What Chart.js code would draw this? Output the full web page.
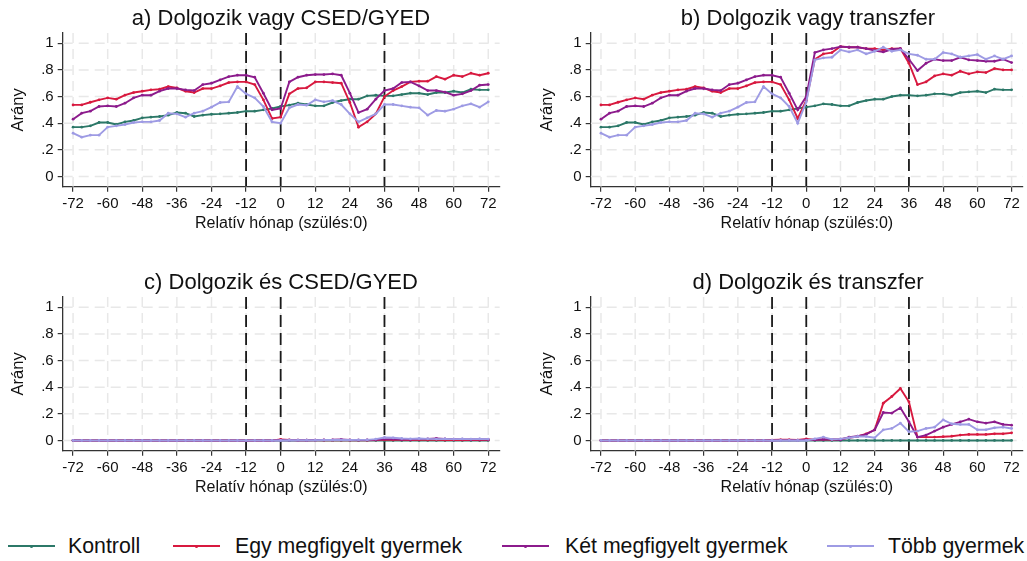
<!DOCTYPE html>
<html lang="hu"><head><meta charset="utf-8">
<script src="https://cdn.jsdelivr.net/npm/chart.js@4.4.1/dist/chart.umd.min.js"></script>
<style>
html,body{margin:0;padding:0;background:#fff;}
body{width:1027px;height:561px;position:relative;overflow:hidden;font-family:"Liberation Sans",Arial,Helvetica,sans-serif;color:#111;}
canvas{position:absolute;}
.ttl{position:absolute;font-size:22px;line-height:24px;white-space:nowrap;transform:translateX(-50%);color:#111;}
.lgline{position:absolute;height:2px;}
.lgdot{position:absolute;width:3px;height:3px;border-radius:2px;}
.lgtxt{position:absolute;font-size:21.3px;line-height:24px;white-space:nowrap;color:#111;}
</style></head><body>
<canvas id="ca" width="513" height="260" style="left:0;top:0"></canvas>
<canvas id="cb" width="513" height="260" style="left:514px;top:0"></canvas>
<canvas id="cc" width="513" height="260" style="left:0;top:264px"></canvas>
<canvas id="cd" width="513" height="260" style="left:514px;top:264px"></canvas>
<div id="titles"></div>
<div id="legend"></div>
<script>
// ---------- data ----------
const months = [-72,-69,-66,-63,-60,-57,-54,-51,-48,-45,-42,-39,-36,-33,-30,-27,-24,-21,-18,-15,-12,-9,-6,-3,0,3,6,9,12,15,18,21,24,27,30,33,36,39,42,45,48,51,54,57,60,63,66,69,72];
const xTickValues = [-72,-60,-48,-36,-24,-12,0,12,24,36,48,60,72];
const yTickValues = [0,0.2,0.4,0.6,0.8,1];
const yTickLabels = ['0','.2','.4','.6','.8','1'];
const refLines = [-12,0,36];
const seriesNames = ['Kontroll','Egy megfigyelt gyermek','Két megfigyelt gyermek','Több gyermek'];
const panelTitles = ['a) Dolgozik vagy CSED/GYED','b) Dolgozik vagy transzfer','c) Dolgozik és CSED/GYED','d) Dolgozik és transzfer'];
const xTitle = 'Relatív hónap (szülés:0)';
const yTitle = 'Arány';

// a) Dolgozik vagy CSED/GYED
const kontrollA = [0.37,0.37,0.38,0.405,0.405,0.39,0.41,0.42,0.44,0.445,0.45,0.46,0.48,0.475,0.45,0.46,0.467,0.47,0.475,0.48,0.49,0.49,0.50,0.51,0.525,
  0.535,0.55,0.54,0.53,0.53,0.555,0.57,0.58,0.58,0.605,0.61,0.605,0.605,0.615,0.625,0.625,0.615,0.63,0.63,0.64,0.63,0.655,0.65,0.65];
const egyA = [0.537,0.537,0.557,0.575,0.59,0.58,0.61,0.63,0.64,0.65,0.655,0.675,0.665,0.64,0.63,0.66,0.66,0.68,0.705,0.71,0.71,0.69,0.575,0.435,0.445,
  0.62,0.66,0.665,0.71,0.71,0.705,0.70,0.555,0.37,0.41,0.47,0.60,0.645,0.675,0.71,0.715,0.715,0.75,0.73,0.76,0.75,0.775,0.76,0.775];
const ketA = [0.43,0.475,0.49,0.525,0.53,0.525,0.55,0.59,0.61,0.61,0.64,0.66,0.66,0.65,0.645,0.69,0.70,0.725,0.75,0.76,0.76,0.745,0.625,0.50,0.51,
  0.71,0.745,0.76,0.765,0.765,0.77,0.76,0.625,0.48,0.505,0.58,0.645,0.66,0.705,0.71,0.68,0.645,0.645,0.633,0.61,0.62,0.645,0.685,0.69];
const tobbA = [0.325,0.295,0.31,0.31,0.37,0.38,0.39,0.405,0.41,0.41,0.42,0.475,0.47,0.445,0.475,0.49,0.52,0.555,0.56,0.675,0.62,0.59,0.525,0.41,0.40,
  0.515,0.54,0.535,0.575,0.56,0.57,0.54,0.47,0.41,0.44,0.47,0.54,0.54,0.53,0.52,0.515,0.46,0.495,0.49,0.505,0.53,0.545,0.52,0.56];

// b) Dolgozik vagy transzfer
const kontrollB = [0.37,0.37,0.38,0.405,0.405,0.39,0.41,0.42,0.44,0.445,0.45,0.46,0.48,0.475,0.45,0.46,0.467,0.47,0.475,0.48,0.49,0.49,0.50,0.51,0.52,
  0.53,0.545,0.54,0.53,0.53,0.555,0.57,0.58,0.58,0.60,0.61,0.61,0.605,0.61,0.62,0.62,0.61,0.63,0.635,0.64,0.63,0.655,0.65,0.65];
const egyB = [0.537,0.537,0.557,0.575,0.59,0.58,0.61,0.63,0.64,0.65,0.655,0.675,0.665,0.64,0.63,0.66,0.66,0.68,0.705,0.71,0.71,0.69,0.575,0.435,0.57,
  0.88,0.92,0.93,0.975,0.97,0.97,0.96,0.96,0.95,0.96,0.96,0.85,0.69,0.71,0.755,0.77,0.76,0.79,0.77,0.785,0.78,0.81,0.80,0.80];
const ketB = [0.43,0.475,0.49,0.525,0.53,0.525,0.55,0.59,0.61,0.61,0.64,0.66,0.66,0.65,0.645,0.69,0.70,0.725,0.75,0.76,0.76,0.745,0.625,0.50,0.60,
  0.93,0.95,0.96,0.975,0.97,0.97,0.96,0.945,0.935,0.955,0.96,0.88,0.795,0.85,0.88,0.87,0.87,0.895,0.875,0.87,0.865,0.865,0.88,0.855];
const tobbB = [0.325,0.295,0.31,0.31,0.37,0.38,0.39,0.405,0.41,0.41,0.42,0.475,0.47,0.445,0.475,0.49,0.52,0.555,0.56,0.675,0.62,0.59,0.525,0.40,0.56,
  0.875,0.89,0.895,0.95,0.935,0.95,0.92,0.94,0.97,0.94,0.95,0.92,0.91,0.88,0.88,0.93,0.92,0.895,0.905,0.915,0.88,0.905,0.88,0.905];

// c) Dolgozik és CSED/GYED
const kontrollC = [0,0,0,0,0,0,0,0,0,0,0,0,0,0,0,0,0,0,0,0,0,0,0,0,0,
  0,0,0,0,0,0,0,0,0,0,0,0,0,0,0,0,0,0,0,0,0,0,0,0];
const egyC = [0,0,0,0,0,0,0,0,0,0,0,0,0,0,0,0,0,0,0,0,0,0,0,0,0.008,
  0.004,0.002,0.002,0.002,0.002,0.002,0.003,0.002,0.003,0.002,0.003,0.006,0.004,0.004,0.003,0.004,0.004,0.004,0.003,0.004,0.003,0.004,0.003,0.004];
const ketC = [0,0,0,0,0,0,0,0,0,0,0,0,0,0,0,0,0,0,0,0,0,0,0,0,0.003,
  0.002,0.002,0.002,0.003,0.004,0.005,0.008,0.004,0.003,0.004,0.006,0.01,0.01,0.008,0.008,0.01,0.012,0.015,0.012,0.01,0.01,0.008,0.01,0.008];
const tobbC = [0,0,0,0,0,0,0,0,0,0,0,0,0,0,0,0,0,0,0,0,0,0,0,0,0,
  0.002,0.002,0.002,0.002,0.003,0.003,0.004,0.003,0.004,0.004,0.01,0.022,0.02,0.015,0.012,0.015,0.012,0.01,0.012,0.01,0.012,0.01,0.012,0.01];

// d) Dolgozik és transzfer
const kontrollD = [0,0,0,0,0,0,0,0,0,0,0,0,0,0,0,0,0,0,0,0,0,0,0,0,0,
  0,0,0,0,0,0,0,0,0,0,0,0,0,0,0,0,0,0,0,0,0,0,0,0];
const egyD = [0,0,0,0,0,0,0,0,0,0,0,0,0,0,0,0,0,0,0,0,0.003,0.005,0.005,0.003,0.012,
  0.005,0.008,0.005,0.01,0.02,0.03,0.05,0.08,0.28,0.33,0.39,0.29,0.025,0.025,0.025,0.028,0.032,0.04,0.045,0.045,0.045,0.05,0.05,0.057];
const ketD = [0,0,0,0,0,0,0,0,0,0,0,0,0,0,0,0,0,0,0,0,0,0.002,0.002,0.002,0.004,
  0.005,0.008,0.008,0.005,0.025,0.032,0.045,0.08,0.21,0.205,0.245,0.14,0.025,0.04,0.07,0.10,0.12,0.14,0.16,0.14,0.13,0.14,0.12,0.115];
const tobbD = [0,0,0,0,0,0,0,0,0,0,0,0,0,0,0,0,0,0,0,0,0,0,0,0,0,
  0.012,0.025,0.008,0.012,0.02,0.03,0.03,0.02,0.08,0.09,0.13,0.065,0.07,0.09,0.10,0.155,0.125,0.12,0.12,0.08,0.08,0.095,0.10,0.09];

// ---------- style ----------
const FF = '"Liberation Sans", Arial, sans-serif';
const colors = ['#2c7868','#d8193f','#8c1b8c','#9e9be4'];
const drawOrder = [4,3,2,1];

Chart.defaults.font.family = FF;

const decor = {
  id:'decor',
  beforeDatasetsDraw(chart){
    const {ctx, chartArea:ca, scales:{x,y}} = chart;
    ctx.save();
    ctx.beginPath(); ctx.rect(ca.left, ca.top, ca.right-ca.left, ca.bottom-ca.top); ctx.clip();
    ctx.strokeStyle = '#e8e8e8'; ctx.lineWidth = 1.5; ctx.setLineDash([10,6]);
    x.ticks.forEach(t=>{const p=x.getPixelForValue(t.value); ctx.beginPath(); ctx.moveTo(p,ca.top); ctx.lineTo(p,ca.bottom); ctx.stroke();});
    y.ticks.forEach(t=>{const p=y.getPixelForValue(t.value); ctx.beginPath(); ctx.moveTo(ca.left,p); ctx.lineTo(ca.right,p); ctx.stroke();});
    ctx.strokeStyle = '#1a1a1a'; ctx.lineWidth = 1.8; ctx.setLineDash([12,6]);
    refLines.forEach(v=>{const p=x.getPixelForValue(v); ctx.beginPath(); ctx.moveTo(p,ca.top); ctx.lineTo(p,ca.bottom); ctx.stroke();});
    ctx.restore();
  }
};

function makeChart(id, series, yAxisWidth, rightPad, yTitlePad){
  const datasets = series.map((vals,k)=>({
    label: seriesNames[k],
    data: months.map((m,i)=>({x:m,y:vals[i]})),
    borderColor: colors[k], backgroundColor: colors[k],
    pointBackgroundColor: colors[k], pointBorderWidth:0, pointRadius:1.4,
    borderWidth:1.9, tension:0, order: drawOrder[k]
  }));
  return new Chart(document.getElementById(id), {
    type:'line',
    data:{datasets},
    plugins:[decor],
    options:{
      responsive:false, animation:false, devicePixelRatio:1,
      layout:{padding:{top:33,left:0,right:rightPad,bottom:0}},
      plugins:{legend:{display:false},tooltip:{enabled:false},title:{display:false}},
      scales:{
        x:{type:'linear',min:-75.6,max:76,
          afterBuildTicks:s=>{s.ticks=xTickValues.map(v=>({value:v}));},
          ticks:{font:{size:15},color:'#111',padding:3,maxRotation:0,autoSkip:false,callback:v=>String(v)},
          grid:{drawOnChartArea:false,drawTicks:true,tickLength:5,color:'#333',lineWidth:1.2},
          border:{display:true,color:'#333',width:1.3},
          title:{display:true,text:xTitle,font:{size:16},color:'#111',padding:{top:0,bottom:26.4}},
          afterFit:s=>{s.height=73.3;}},
        y:{type:'linear',min:-0.077,max:1.077,
          afterBuildTicks:s=>{s.ticks=yTickValues.map(v=>({value:v}));},
          ticks:{font:{size:15},color:'#111',padding:4,callback:(v,i)=>yTickLabels[i]},
          grid:{drawOnChartArea:false,drawTicks:true,tickLength:5,color:'#333',lineWidth:1.2},
          border:{display:true,color:'#333',width:1.3},
          title:{display:true,text:yTitle,font:{size:16.5},color:'#111',padding:{top:yTitlePad,bottom:0}},
          afterFit:s=>{s.width=yAxisWidth;}}
      }
    }
  });
}

makeChart('ca',[kontrollA,egyA,ketA,tobbA],62.7,13.2,8.7);
makeChart('cb',[kontrollB,egyB,ketB,tobbB],76.7,0.2,23.2);
makeChart('cc',[kontrollC,egyC,ketC,tobbC],62.7,13.2,8.7);
makeChart('cd',[kontrollD,egyD,ketD,tobbD],76.7,0.2,23.2);

// titles
const titlePos = [[281,6],[808,6],[281,270],[808,270]];
const tdiv = document.getElementById('titles');
panelTitles.forEach((t,i)=>{
  const d=document.createElement('div'); d.className='ttl'; d.textContent=t;
  d.style.left=titlePos[i][0]+'px'; d.style.top=titlePos[i][1]+'px'; tdiv.appendChild(d);
});
// legend
const legLineX=[8,173,502,827], legTextX=[68,235,565,888];
const ldiv=document.getElementById('legend');
seriesNames.forEach((n,i)=>{
  const l=document.createElement('div'); l.className='lgline';
  l.style.cssText+=`left:${legLineX[i]}px;top:545px;width:47px;background:${colors[i]}`;
  ldiv.appendChild(l);
  const d=document.createElement('div'); d.className='lgdot';
  d.style.cssText+=`left:${legLineX[i]+22}px;top:544.5px;background:${colors[i]}`;
  ldiv.appendChild(d);
  const t=document.createElement('div'); t.className='lgtxt'; t.textContent=n;
  t.style.cssText+=`left:${legTextX[i]}px;top:534px`;
  ldiv.appendChild(t);
});
</script>
</body></html>
